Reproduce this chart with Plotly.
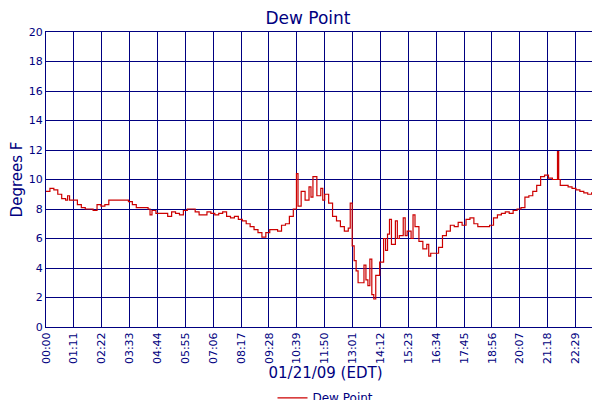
import plotly.graph_objects as go

minutes = [0,10,20,30,40,50,55,60,70,80,90,100,110,120,130,140,150,160,170,180,190,200,210,220,
 230,240,250,260,265,270,280,290,300,310,320,330,340,350,360,370,380,390,400,410,420,430,
 440,450,460,470,480,490,500,510,520,530,540,550,560,570,580,590,600,610,620,630,638,642,650,660,
 670,675,680,690,700,705,710,720,730,740,750,760,770,775,780,785,790,795,800,810,815,820,825,830,835,840,850,
 860,865,870,875,880,890,895,900,910,915,920,930,935,940,950,960,970,975,980,990,1000,1010,1020,1030,1040,1050,
 1060,1070,1080,1090,1100,1110,1120,1130,1140,1150,1160,1170,1180,1190,1200,1210,1220,1230,1240,1250,
 1260,1270,1280,1290,1300,1303,1306,1310,1320,1330,1340,1350,1360,1370,1380,1390,1400,1410,1420,1424]
dew = [9.2,9.4,9.3,9.0,8.7,8.6,8.9,8.6,8.6,8.3,8.1,8.0,8.0,7.9,8.3,8.2,8.3,8.6,8.6,8.6,8.6,8.6,8.5,8.3,
 8.1,8.1,8.1,8.0,7.6,7.9,7.7,7.7,7.7,7.5,7.8,7.7,7.6,7.9,8.0,8.0,7.8,7.6,7.6,7.8,7.7,7.6,
 7.7,7.8,7.5,7.4,7.5,7.3,7.2,7.0,6.8,6.6,6.4,6.1,6.4,6.6,6.6,6.5,6.9,7.0,7.5,8.0,10.4,8.2,9.2,8.6,
 9.5,8.8,10.2,8.9,9.4,8.6,9.0,8.4,7.5,7.2,6.8,6.5,6.7,8.4,5.5,4.5,3.8,3.0,3.0,4.2,3.2,2.8,4.6,2.2,1.9,3.5,4.4,
 6.0,5.2,6.3,7.3,5.6,7.2,6.0,6.2,7.4,6.2,6.5,6.0,7.6,6.8,5.8,5.3,5.6,4.8,5.0,5.0,5.4,6.2,6.5,6.9,6.8,7.1,
 6.9,7.3,7.4,7.0,6.8,6.8,6.8,6.9,7.4,7.6,7.7,7.8,7.7,7.9,8.0,8.1,8.8,8.9,9.2,9.6,
 10.2,10.3,10.1,10.0,10.0,11.9,10.0,9.6,9.6,9.5,9.4,9.3,9.2,9.1,9.0,9.1,8.9,9.2,9.1,9.2]

tick_vals = [i*71 for i in range(20)] + [1424]
tick_text = ["%02d:%02d" % (v//60, v%60) for v in tick_vals]

navy = "#000080"
fig = go.Figure(go.Scatter(x=minutes, y=dew, mode="lines", line=dict(color="#cc0000", width=1.2, shape="hv"),
                           name="Dew Point"))
fig.update_layout(
    width=600, height=400, margin=dict(l=38, r=3, t=24, b=81, autoexpand=False),
    paper_bgcolor="white", plot_bgcolor="white",
    font=dict(family="DejaVu Sans", color=navy, size=11),
    title=dict(text="Dew Point", x=0.5, xanchor="center", y=0.99, yanchor="top", font=dict(size=17, color=navy)),
    showlegend=True,
    legend=dict(orientation="h", x=0.5, xanchor="center", y=-0.24, yanchor="middle", font=dict(size=12, color=navy)),
    xaxis=dict(range=[0,1424], tickmode="array", tickvals=tick_vals, ticktext=tick_text, tickangle=-90,
               automargin=False, ticklabeloverflow="allow",
               showgrid=True, gridcolor=navy, gridwidth=1, zeroline=False, showline=True, linecolor=navy, mirror=True,
               title=dict(text="01/21/09 (EDT)", font=dict(size=15, color=navy), standoff=0)),
    yaxis=dict(range=[0,20], dtick=2, showgrid=True, gridcolor=navy, gridwidth=1, zeroline=False, automargin=False,
               showline=True, linecolor=navy, mirror=True,
               title=dict(text="Degrees F", font=dict(size=15, color=navy), standoff=4)),
)
fig.write_html("out.html")
